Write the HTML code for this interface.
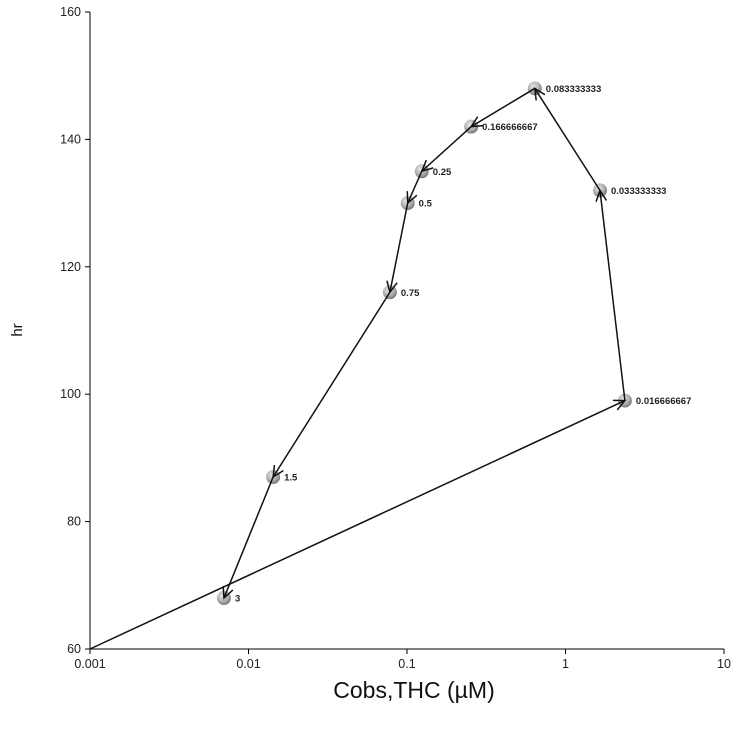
<!DOCTYPE html>
<html><head><meta charset="utf-8"><style>
html,body{margin:0;padding:0;background:#fff;}
svg{display:block;font-family:"Liberation Sans",Arial,sans-serif;}
</style></head><body>
<svg id="chart" width="749" height="740" viewBox="0 0 749 740" xmlns="http://www.w3.org/2000/svg">
<defs>
<radialGradient id="ball" cx="40%" cy="35%" r="65%">
<stop offset="0" stop-color="#e8e8e8"/><stop offset="0.6" stop-color="#b0b0b0"/><stop offset="1" stop-color="#7a7a7a"/>
</radialGradient>
</defs>
<g id="axes"></g>
<g id="marks"></g>
</svg>
<script>
const xValues=[0.001,2.37,1.65,0.64,0.254,0.124,0.101,0.078,0.0143,0.007];
const yValues=[60,99,132,148,142,135,130,116,87,68];
const pointLabels=["","0.016666667","0.033333333","0.083333333","0.166666667","0.25","0.5","0.75","1.5","3"];
const xTicks=[0.001,0.01,0.1,1,10];
const xTickLabels=["0.001","0.01","0.1","1","10"];
const yTicks=[60,80,100,120,140,160];

const X0=90,X1=724,Y0=649,Y1=12;
const xs=v=>X0+(Math.log10(v)+3)/4*(X1-X0);
const ys=v=>Y0-(v-60)/100*(Y0-Y1);
const NS="http://www.w3.org/2000/svg";
function mk(tag,attrs,parent){const e=document.createElementNS(NS,tag);for(const k in attrs)e.setAttribute(k,attrs[k]);parent.appendChild(e);return e;}
const axes=document.getElementById('axes'),marks=document.getElementById('marks');

let a=mk('line',{x1:X0,y1:Y0,x2:X1,y2:Y0,stroke:'#000','stroke-width':1},axes);


a=mk('line',{x1:X0,y1:Y0,x2:X0,y2:Y1,stroke:'#000','stroke-width':1},axes);


xTicks.forEach((t,i)=>{
  const x=xs(t);
  mk('line',{x1:x,y1:Y0,x2:x,y2:Y0+5,stroke:'#000'},axes);
  const tx=mk('text',{x:x,y:Y0+19,'text-anchor':'middle','font-size':12.5,fill:'#222'},axes);
  tx.textContent=xTickLabels[i];
  
  
});
yTicks.forEach(t=>{
  const y=ys(t);
  mk('line',{x1:X0-5,y1:y,x2:X0,y2:y,stroke:'#000'},axes);
  const tx=mk('text',{x:X0-9,y:y+4,'text-anchor':'end','font-size':12.5,fill:'#222'},axes);
  tx.textContent=String(t);
  
  
});
let t=mk('text',{x:414,y:698,'text-anchor':'middle','font-size':23,fill:'#111'},axes);
t.textContent='Cobs,THC (µM)';


t=mk('text',{x:22,y:330,'text-anchor':'middle','font-size':15,fill:'#111',transform:'rotate(-90 22 330)'},axes);
t.textContent='hr';



for(let i=1;i<xValues.length;i++){
  const c=mk('circle',{cx:xs(xValues[i]),cy:ys(yValues[i]),r:7,fill:'url(#ball)'},marks);
  
  
  const l=mk('text',{x:xs(xValues[i])+11,y:ys(yValues[i])+3.5,'font-size':9.5,'font-weight':'bold',fill:'#222'},marks);
  l.textContent=pointLabels[i];
  
  
}
for(let i=1;i<xValues.length;i++){
  const x1=xs(xValues[i-1]),y1=ys(yValues[i-1]),x2=xs(xValues[i]),y2=ys(yValues[i]);
  const s=mk('line',{x1:x1,y1:y1,x2:x2,y2:y2,stroke:'#111','stroke-width':1.5},marks);
  
  
  const ang=Math.atan2(y2-y1,x2-x1),L=12,w=0.45;
  const p=`M${x2-L*Math.cos(ang-w)},${y2-L*Math.sin(ang-w)} L${x2},${y2} L${x2-L*Math.cos(ang+w)},${y2-L*Math.sin(ang+w)}`;
  const h=mk('path',{d:p,fill:'none',stroke:'#111','stroke-width':1.5},marks);
  
  
}
</script>
</body></html>
